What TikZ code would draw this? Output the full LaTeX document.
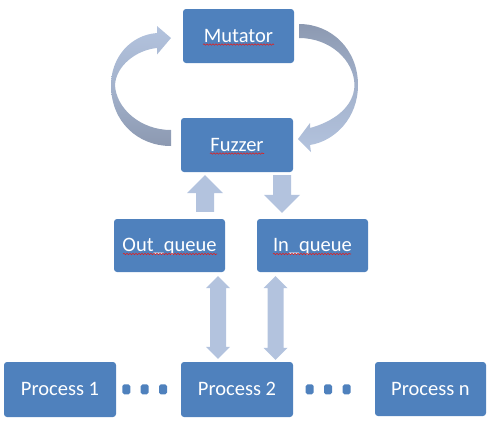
\documentclass[tikz,border=0pt]{standalone}
\usepackage{fontspec}
\setmainfont{Carlito}
\usetikzlibrary{calc,decorations.pathmorphing}
\definecolor{boxblue}{HTML}{4F81BD}
\definecolor{arrlight}{HTML}{B3C3DE}
\definecolor{arrdark}{HTML}{8C99B1}
\definecolor{squig}{HTML}{E02020}
\tikzset{
  box/.style={fill=boxblue, rounded corners=3pt, text=white,
    font=\fontsize{20.5}{24}\selectfont, minimum width=111pt, minimum height=54pt,
    inner sep=0pt, text height=13.5pt, text depth=1.5pt},
  dotbox/.style={fill=boxblue, rounded corners=1.8pt, minimum width=8pt,
    minimum height=10pt, inner sep=0pt},
  fatone/.style={to path={let \p1=(\tikztostart), \p2=(\tikztotarget),
    \p3=($(\tikztotarget)!18pt!(\tikztostart)$) in
    ({\x1-9pt},\y1) -- ({\x1-9pt},\y3) -- ({\x1-18pt},\y3) -- (\x2,\y2)
    -- ({\x1+18pt},\y3) -- ({\x1+9pt},\y3) -- ({\x1+9pt},\y1) -- cycle}},
  fattwo/.style={to path={let \p1=(\tikztostart), \p2=(\tikztotarget),
    \p3=($(\tikztostart)!12pt!(\tikztotarget)$),
    \p4=($(\tikztotarget)!12pt!(\tikztostart)$) in
    (\x1,\y1) -- ({\x1-12pt},\y3) -- ({\x1-8pt},\y3) -- ({\x1-8pt},\y4)
    -- ({\x1-12pt},\y4) -- (\x2,\y2) -- ({\x1+12pt},\y4) -- ({\x1+8pt},\y4)
    -- ({\x1+8pt},\y3) -- ({\x1+12pt},\y3) -- cycle}},
  squiggle/.style={draw=squig, line width=0.6pt, decorate,
    decoration={snake, amplitude=0.7pt, segment length=3pt}}
}
\begin{document}
\begin{tikzpicture}[x=1pt,y=-1pt]
\useasboundingbox (0,0) rectangle (504,429);

% boxes
\node[box] (mut) at (238.5,36) {Mutator};
\node[box, minimum width=112pt] (fuz) at (237,145) {Fuzzer};
\node[box, minimum height=53pt] (outq) at (169.5,245.5) {Out\_queue};
\node[box, minimum height=53pt] (inq) at (312.5,245.5) {In\_queue};
\node[box, minimum width=112pt, minimum height=55pt] (p1) at (60,389.5) {Process 1};
\node[box, minimum width=112pt, minimum height=55pt] (p2) at (237,389.5) {Process 2};
\node[box] (pn) at (430.5,389) {Process n};

% dots
\node[dotbox] (da) at (126.3,389.3) {};
\node[dotbox] (db) at (144.7,389.3) {};
\node[dotbox] (dc) at (163,389.3) {};
\node[dotbox] (dd) at (309.7,389.3) {};
\node[dotbox] (de) at (328,389.3) {};
\node[dotbox] (df) at (346.7,389.3) {};

% spell-check squiggles
\draw[squiggle] (203,44.5) -- (274,44.5);
\draw[squiggle] (210,153.5) -- (264,153.5);
\draw[squiggle] (123,254) -- (217,254);
\draw[squiggle] (273,254) -- (351,254);

% curved arrows
\shade[top color=arrlight, bottom color=arrdark, middle color=arrlight!60!arrdark]
  (171,146) .. controls (138,146) and (111,122) .. (111,85)
  .. controls (111,58) and (130,35) .. (157,33)
  -- (157,26) -- (171,38) -- (157,54.5) -- (157,48)
  .. controls (136,50) and (116,66) .. (115,85)
  .. controls (116,108) and (140,130) .. (171,130) -- cycle;
\shade[top color=arrdark, bottom color=arrlight, middle color=arrlight!60!arrdark]
  (299,24) .. controls (332,24) and (358,50) .. (358,85)
  .. controls (358,118) and (335,141) .. (310,145)
  -- (311,152) -- (298,139) -- (310,123) -- (310,128)
  .. controls (332,122) and (354,108) .. (354.5,85)
  .. controls (354,60) and (330,38) .. (299,38) -- cycle;

% straight arrows
\coordinate (upS) at ($(outq.north)+(35.5,-7)$);
\coordinate (upT) at ($(fuz.south)+(-32,3)$);
\coordinate (dnS) at ($(fuz.south)+(45,3)$);
\coordinate (dnT) at ($(inq.north)+(-30.5,-6)$);
\coordinate (l1) at ($(outq.south)+(48.5,4)$);
\coordinate (l2) at ($(p2.north)+(-19,-3)$);
\coordinate (r1) at ($(inq.south)+(-37,4)$);
\coordinate (r2) at ($(p2.north)+(38.5,-2)$);
\fill[arrlight] (upS) to[fatone] (upT);
\fill[arrlight] (dnS) to[fatone] (dnT);
\fill[arrlight] (l1) to[fattwo] (l2);
\fill[arrlight] (r1) to[fattwo] (r2);
\end{tikzpicture}
\end{document}
